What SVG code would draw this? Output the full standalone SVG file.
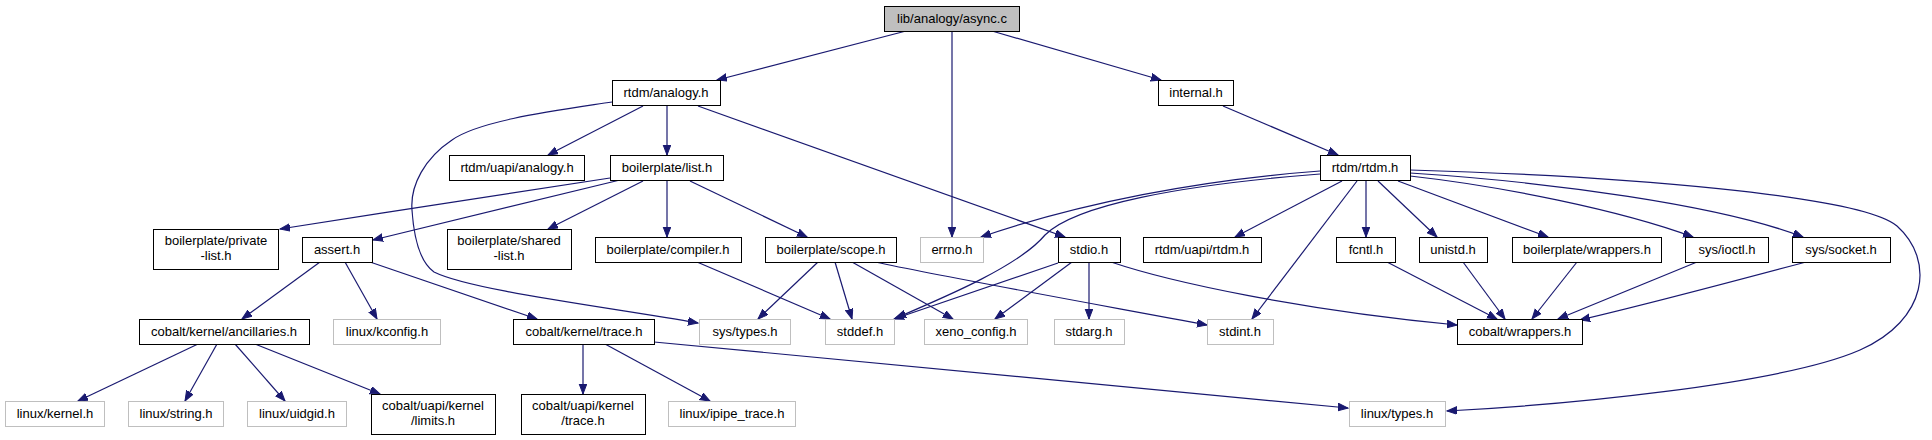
<svg xmlns="http://www.w3.org/2000/svg" width="1932" height="440" viewBox="0 0 1932 440">
<style>
text{font-family:"Liberation Sans",Arial,sans-serif;font-size:13px;fill:#000;text-anchor:middle}
.n rect{fill:#fff;stroke:#000;stroke-width:1}
.g rect{fill:#fff;stroke:#bfbfbf;stroke-width:1}
.r rect{fill:#bfbfbf;stroke:#000;stroke-width:1}
#edges path{fill:none;stroke:#191970;stroke-width:1.2;marker-end:url(#a)}
</style>
<defs>
<marker id="a" markerWidth="12" markerHeight="10" refX="10" refY="4" orient="auto" markerUnits="userSpaceOnUse">
<path d="M0,0.2 L10,4 L0,7.8 z" fill="#191970" stroke="#191970" stroke-width="1"/>
</marker>
</defs>
<rect width="1932" height="440" fill="#fff"/>
<g id="edges">
<path d="M906,31 L717,80"/>
<path d="M952,31 L952,237"/>
<path d="M992,31 L1161,80"/>
<path d="M1223,106 L1338,155"/>
<path d="M643,106 L548,155"/>
<path d="M667,106 L667,155"/>
<path d="M612,102 C560,110 480,120 452,140 C425,158 410,185 412,210 C414,240 420,262 434,272 C470,290 600,306 698,323"/>
<path d="M698,106 L1065,237"/>
<path d="M610,178 C560,186 400,210 280,229"/>
<path d="M620,180 L373,240"/>
<path d="M643,181 L548,229"/>
<path d="M667,181 L667,237"/>
<path d="M690,181 L807,237"/>
<path d="M818,262 L758,319"/>
<path d="M835,262 L852,319"/>
<path d="M852,262 L953,319"/>
<path d="M875,262 C950,278 1100,305 1207,325"/>
<path d="M697,262 L830,319"/>
<path d="M320,262 L242,319"/>
<path d="M345,262 L377,319"/>
<path d="M370,262 L537,319"/>
<path d="M198,344 L78,401"/>
<path d="M217,344 L185,401"/>
<path d="M235,344 L285,401"/>
<path d="M255,344 L380,394"/>
<path d="M583,344 L583,394"/>
<path d="M605,344 L710,401"/>
<path d="M654,342 L1348,408"/>
<path d="M1058,263 L894,319"/>
<path d="M1320,174 C1180,185 1075,205 1045,235 C1020,265 950,295 896,318"/>
<path d="M1320,171 C1200,180 1080,203 981,237"/>
<path d="M1072,262 L995,319"/>
<path d="M1089,262 L1089,319"/>
<path d="M1111,262 C1170,282 1300,310 1457,325"/>
<path d="M1342,181 L1235,237"/>
<path d="M1357,181 L1252,319"/>
<path d="M1366,181 L1366,237"/>
<path d="M1378,181 L1437,237"/>
<path d="M1398,181 L1548,237"/>
<path d="M1410,176 C1500,186 1620,210 1693,237"/>
<path d="M1410,173 C1550,182 1720,205 1803,237"/>
<path d="M1410,170 C1620,176 1860,195 1897,226 C1935,260 1928,320 1860,350 C1780,385 1560,405 1447,411"/>
<path d="M1387,262 L1497,319"/>
<path d="M1463,262 L1505,319"/>
<path d="M1577,262 L1532,319"/>
<path d="M1697,262 L1558,319"/>
<path d="M1806,262 C1720,285 1640,306 1580,320"/>
</g>
<g id="n_async" class="r"><rect x="884.5" y="6.5" width="135" height="25"/><text x="952" y="23">lib/analogy/async.c</text></g>
<g id="n_rtdm_analogy" class="n"><rect x="612.5" y="80.5" width="108" height="25"/><text x="666" y="97">rtdm/analogy.h</text></g>
<g id="n_internal" class="n"><rect x="1158.5" y="80.5" width="75" height="25"/><text x="1196" y="97">internal.h</text></g>
<g id="n_uapi_analogy" class="n"><rect x="449.5" y="155.5" width="135" height="25"/><text x="517" y="172">rtdm/uapi/analogy.h</text></g>
<g id="n_list" class="n"><rect x="610.5" y="155.5" width="113" height="25"/><text x="667" y="172">boilerplate/list.h</text></g>
<g id="n_rtdm" class="n"><rect x="1320.5" y="155.5" width="90" height="25"/><text x="1365" y="172">rtdm/rtdm.h</text></g>
<g id="n_private_list" class="n"><rect x="153.5" y="229.5" width="125" height="40"/><text x="216" y="245">boilerplate/private</text><text x="216" y="260">-list.h</text></g>
<g id="n_assert" class="n"><rect x="302.5" y="237.5" width="70" height="25"/><text x="337" y="254">assert.h</text></g>
<g id="n_shared_list" class="n"><rect x="447.5" y="229.5" width="124" height="40"/><text x="509" y="245">boilerplate/shared</text><text x="509" y="260">-list.h</text></g>
<g id="n_compiler" class="n"><rect x="595.5" y="237.5" width="146" height="25"/><text x="668" y="254">boilerplate/compiler.h</text></g>
<g id="n_scope" class="n"><rect x="765.5" y="237.5" width="131" height="25"/><text x="831" y="254">boilerplate/scope.h</text></g>
<g id="n_errno" class="g"><rect x="920.5" y="237.5" width="63" height="25"/><text x="952" y="254">errno.h</text></g>
<g id="n_stdio" class="n"><rect x="1058.5" y="237.5" width="62" height="25"/><text x="1089" y="254">stdio.h</text></g>
<g id="n_uapi_rtdm" class="n"><rect x="1143.5" y="237.5" width="118" height="25"/><text x="1202" y="254">rtdm/uapi/rtdm.h</text></g>
<g id="n_fcntl" class="n"><rect x="1336.5" y="237.5" width="59" height="25"/><text x="1366" y="254">fcntl.h</text></g>
<g id="n_unistd" class="n"><rect x="1419.5" y="237.5" width="68" height="25"/><text x="1453" y="254">unistd.h</text></g>
<g id="n_bwrappers" class="n"><rect x="1512.5" y="237.5" width="149" height="25"/><text x="1587" y="254">boilerplate/wrappers.h</text></g>
<g id="n_ioctl" class="n"><rect x="1685.5" y="237.5" width="83" height="25"/><text x="1727" y="254">sys/ioctl.h</text></g>
<g id="n_socket" class="n"><rect x="1792.5" y="237.5" width="98" height="25"/><text x="1841" y="254">sys/socket.h</text></g>
<g id="n_ancillaries" class="n"><rect x="139.5" y="319.5" width="170" height="25"/><text x="224" y="336">cobalt/kernel/ancillaries.h</text></g>
<g id="n_kconfig" class="g"><rect x="333.5" y="319.5" width="107" height="25"/><text x="387" y="336">linux/kconfig.h</text></g>
<g id="n_ktrace" class="n"><rect x="513.5" y="319.5" width="141" height="25"/><text x="584" y="336">cobalt/kernel/trace.h</text></g>
<g id="n_systypes" class="g"><rect x="699.5" y="319.5" width="91" height="25"/><text x="745" y="336">sys/types.h</text></g>
<g id="n_stddef" class="g"><rect x="825.5" y="319.5" width="69" height="25"/><text x="860" y="336">stddef.h</text></g>
<g id="n_xeno" class="g"><rect x="924.5" y="319.5" width="103" height="25"/><text x="976" y="336">xeno_config.h</text></g>
<g id="n_stdarg" class="g"><rect x="1054.5" y="319.5" width="70" height="25"/><text x="1089" y="336">stdarg.h</text></g>
<g id="n_stdint" class="g"><rect x="1207.5" y="319.5" width="66" height="25"/><text x="1240" y="336">stdint.h</text></g>
<g id="n_cwrappers" class="n"><rect x="1457.5" y="319.5" width="125" height="25"/><text x="1520" y="336">cobalt/wrappers.h</text></g>
<g id="n_lkernel" class="g"><rect x="5.5" y="401.5" width="99" height="25"/><text x="55" y="418">linux/kernel.h</text></g>
<g id="n_lstring" class="g"><rect x="128.5" y="401.5" width="95" height="25"/><text x="176" y="418">linux/string.h</text></g>
<g id="n_luidgid" class="g"><rect x="247.5" y="401.5" width="99" height="25"/><text x="297" y="418">linux/uidgid.h</text></g>
<g id="n_limits" class="n"><rect x="371.5" y="394.5" width="124" height="40"/><text x="433" y="410">cobalt/uapi/kernel</text><text x="433" y="425">/limits.h</text></g>
<g id="n_utrace" class="n"><rect x="521.5" y="394.5" width="124" height="40"/><text x="583" y="410">cobalt/uapi/kernel</text><text x="583" y="425">/trace.h</text></g>
<g id="n_ipipe" class="g"><rect x="668.5" y="401.5" width="127" height="25"/><text x="732" y="418">linux/ipipe_trace.h</text></g>
<g id="n_ltypes" class="g"><rect x="1349.5" y="401.5" width="96" height="25"/><text x="1397" y="418">linux/types.h</text></g>
</svg>
